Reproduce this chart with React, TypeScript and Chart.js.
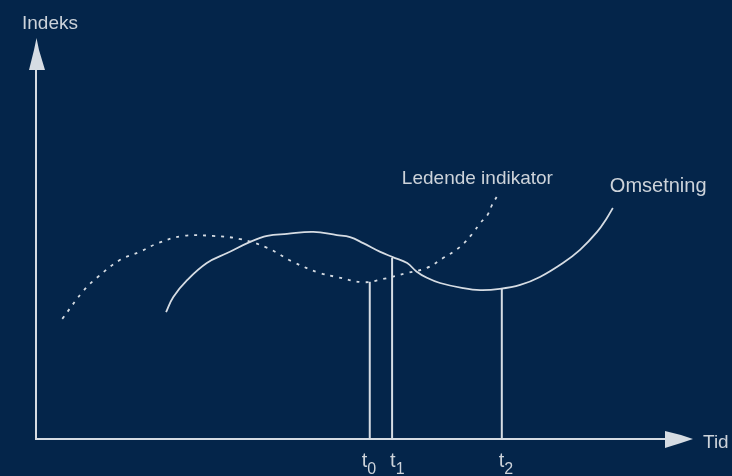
import React, { useEffect, useRef } from "react";
import { Chart, registerables } from "chart.js";

Chart.register(...registerables);

// Leading indicator (dotted curve)
const leadX = [4.0, 7.2, 9.4, 12.8, 15.8, 18.6, 22.4, 26.9, 31.1, 35.2, 39.1, 43.2, 45.8, 49.8, 52.8, 56.5, 59.5, 62.0, 64.5, 66.5, 67.6, 68.7, 69.4, 70.3];
const leadY = [30.1, 37.1, 40.6, 44.9, 46.9, 49.1, 50.9, 50.9, 50.1, 47.9, 44.4, 41.6, 40.6, 39.3, 40.1, 41.6, 42.9, 45.4, 48.1, 51.6, 54.1, 56.1, 58.6, 61.2];

// Omsetning (solid curve)
const salesX = [19.8, 20.9, 23.0, 26.0, 29.1, 32.6, 35.2, 38.2, 42.2, 45.8, 47.8, 49.8, 52.4, 54.3, 56.5, 57.9, 59.5, 61.5, 65.0, 67.6, 70.6, 73.7, 76.7, 80.2, 82.8, 85.4, 86.9, 87.8];
const salesY = [31.8, 35.6, 39.8, 44.1, 46.6, 49.4, 50.9, 51.4, 51.9, 51.1, 50.6, 49.1, 46.9, 45.6, 44.1, 42.0, 40.4, 39.1, 37.8, 37.3, 37.6, 38.6, 40.6, 44.1, 47.4, 51.9, 55.4, 57.9];

// Time markers t0, t1, t2 and the height each vertical line reaches
const markerLabels = ["t0", "t1", "t2"];
const markerX = [50.8, 54.2, 70.9];
const markerTop = [39.4, 45.4, 37.6];

const seriesLabels = ["Ledende indikator", "Omsetning"];
const axisLabels = ["Indeks", "Tid"];

const BG = "#04254a";
const FG = "#d6dce3";
const TXT = "#cdd3da";
const FONT = "'Liberation Sans', Arial, sans-serif";

const annotate = {
  id: "annotate",
  beforeDatasetsDraw(chart: any) {
    const { ctx, chartArea } = chart;
    const { left, right, top, bottom } = chartArea;
    ctx.save();
    ctx.strokeStyle = FG;
    ctx.fillStyle = FG;
    ctx.lineWidth = 2;
    ctx.beginPath();
    ctx.moveTo(left, top + 20);
    ctx.lineTo(left, bottom);
    ctx.lineTo(right - 20, bottom);
    ctx.stroke();
    // y arrow
    ctx.beginPath();
    ctx.moveTo(left + 0.5, top - 2);
    ctx.lineTo(left - 2, top + 10);
    ctx.lineTo(left - 7, top + 30);
    ctx.lineTo(left + 9, top + 30);
    ctx.lineTo(left + 3, top + 10);
    ctx.closePath();
    ctx.fill();
    // x arrow
    ctx.beginPath();
    ctx.moveTo(right, bottom);
    ctx.lineTo(right - 12, bottom - 4);
    ctx.lineTo(right - 28, bottom - 8);
    ctx.lineTo(right - 28, bottom + 9);
    ctx.lineTo(right - 12, bottom + 4);
    ctx.closePath();
    ctx.fill();
    ctx.restore();
  },
  afterDatasetsDraw(chart: any) {
    const { ctx, chartArea, scales } = chart;
    const xs = scales.x;
    const ys = scales.y;
    ctx.save();
    ctx.fillStyle = TXT;
    ctx.textBaseline = "alphabetic";
    ctx.textAlign = "left";
    ctx.font = `19px ${FONT}`;
    ctx.fillText(axisLabels[0], chartArea.left - 14, chartArea.top - 11);
    ctx.fillText(axisLabels[1], chartArea.right + 10, chartArea.bottom + 9);
    // series labels near ends of curves
    const le = leadX.length - 1;
    ctx.fillText(seriesLabels[0], xs.getPixelForValue(leadX[le]) - 96, ys.getPixelForValue(leadY[le]) - 11);
    const se = salesX.length - 1;
    ctx.font = `20px ${FONT}`;
    ctx.fillText(seriesLabels[1], xs.getPixelForValue(salesX[se]) - 3, ys.getPixelForValue(salesY[se]) - 16);
    // t labels
    const nudges = [-8, -2, -3];
    markerLabels.forEach((lab, i) => {
      const px = xs.getPixelForValue(markerX[i]) + nudges[i];
      const by = chartArea.bottom + 28;
      ctx.font = `20px ${FONT}`;
      ctx.fillText(lab[0], px, by);
      const w = ctx.measureText(lab[0]).width;
      ctx.font = `16px ${FONT}`;
      ctx.fillText(lab.slice(1), px + w, by + 7);
    });
    ctx.restore();
  },
};

export default function App() {
  const ref = useRef<HTMLCanvasElement>(null);
  useEffect(() => {
    if (!ref.current) return;
    const line = (xs: number[], ys: number[]) => xs.map((x, i) => ({ x, y: ys[i] }));
    const markers = markerX.map((x, i) => ({
      label: markerLabels[i],
      data: [{ x, y: 0 }, { x, y: markerTop[i] }],
      borderColor: FG,
      borderWidth: 2,
      pointRadius: 0,
      showLine: true,
      tension: 0,
    }));
    const chart = new Chart(ref.current, {
      type: "scatter",
      data: {
        datasets: [
          {
            label: seriesLabels[0],
            data: line(leadX, leadY),
            borderColor: FG,
            borderWidth: 1.8,
            borderDash: [3, 6],
            pointRadius: 0,
            showLine: true,
            tension: 0.4,
          },
          {
            label: seriesLabels[1],
            data: line(salesX, salesY),
            borderColor: FG,
            borderWidth: 1.8,
            pointRadius: 0,
            showLine: true,
            tension: 0.4,
          },
          ...markers,
        ],
      },
      options: {
        responsive: false,
        animation: false,
        devicePixelRatio: 1,
        layout: { padding: { left: 36, right: 39, top: 40, bottom: 37 } },
        scales: {
          x: { type: "linear", min: 0, max: 100, display: false },
          y: { type: "linear", min: 0, max: 100, display: false },
        },
        plugins: { legend: { display: false }, tooltip: { enabled: false } },
      },
      plugins: [annotate],
    });
    return () => chart.destroy();
  }, []);
  return (
    <div style={{ position: "fixed", left: 0, top: 0, width: 732, height: 476, background: BG }}>
      <canvas ref={ref} width={732} height={476} />
    </div>
  );
}
